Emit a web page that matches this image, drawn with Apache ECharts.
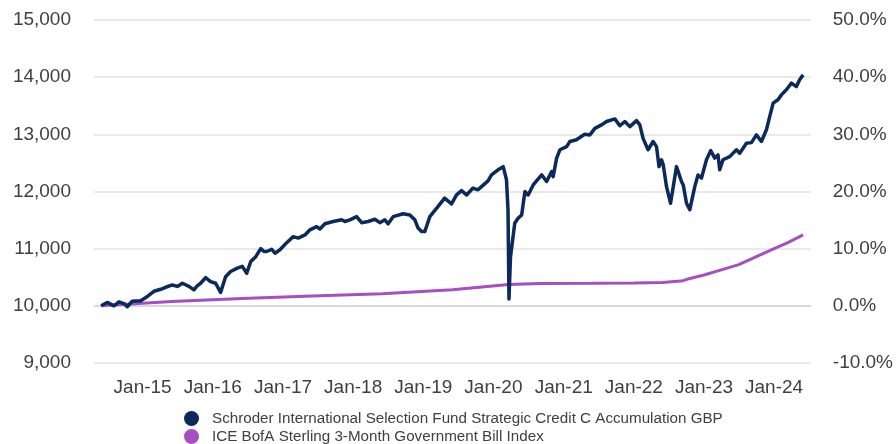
<!DOCTYPE html>
<html>
<head>
<meta charset="utf-8">
<script src="https://cdn.jsdelivr.net/npm/echarts@6/dist/echarts.min.js"></script>
<style>
html,body{margin:0;padding:0;background:#fff;}
#chart{width:896px;height:444px;}
</style>
</head>
<body>
<div id="chart"></div>
<script>
const fundName = 'Schroder International Selection Fund Strategic Credit C Accumulation GBP';
const benchName = 'ICE BofA Sterling 3-Month Government Bill Index';

const fundDates = ['2014-05-30','2014-07-01','2014-08-05','2014-08-31','2014-09-26','2014-10-13','2014-11-08','2014-12-22',
'2015-01-26','2015-03-01','2015-04-05','2015-05-01','2015-06-05','2015-07-01','2015-07-27','2015-08-30','2015-09-25','2015-10-12','2015-10-30','2015-11-25','2015-12-21',
'2016-01-16','2016-02-11','2016-03-08','2016-04-03','2016-05-08','2016-06-03','2016-06-26','2016-07-17','2016-08-12','2016-09-07','2016-09-24','2016-10-08','2016-11-03','2016-11-20','2016-12-16',
'2017-01-20','2017-02-23','2017-03-21','2017-04-25','2017-05-21','2017-06-25','2017-07-12','2017-08-07','2017-09-19','2017-11-02','2017-11-19','2017-12-15',
'2018-01-19','2018-02-14','2018-03-20','2018-04-24','2018-05-20','2018-06-15','2018-07-02','2018-07-28','2018-09-18','2018-10-23','2018-11-18','2018-12-05','2018-12-23',
'2019-01-09','2019-02-04','2019-03-18','2019-04-22','2019-05-28','2019-06-23','2019-07-19','2019-08-14','2019-09-17','2019-10-13','2019-10-31','2019-12-04','2019-12-22',
'2020-01-25','2020-02-21','2020-03-09','2020-03-17','2020-03-22','2020-03-30','2020-04-21','2020-05-09','2020-05-27','2020-06-13','2020-06-30','2020-07-26','2020-09-08','2020-10-04','2020-10-30','2020-11-07','2020-11-25','2020-12-12',
'2021-01-16','2021-02-02','2021-03-08','2021-04-20','2021-05-17','2021-06-12','2021-07-17','2021-08-12','2021-09-24','2021-10-20','2021-11-15','2021-12-11',
'2022-01-15','2022-02-01','2022-02-18','2022-03-16','2022-04-11','2022-04-29','2022-05-12','2022-05-25','2022-06-03','2022-06-20','2022-07-11','2022-08-11','2022-09-06','2022-09-15','2022-10-02','2022-10-19','2022-11-14','2022-12-01','2022-12-19',
'2023-01-14','2023-02-05','2023-02-26','2023-03-15','2023-03-24','2023-04-10','2023-05-15','2023-06-19','2023-07-06','2023-08-10','2023-09-05','2023-10-01','2023-10-27','2023-11-22','2023-12-09','2023-12-27',
'2024-01-21','2024-02-08','2024-03-05','2024-03-31','2024-04-26','2024-05-13','2024-05-31'];

const fundValues = [10000,10060,10000,10070,10040,9985,10080,10090,
10165,10255,10290,10325,10365,10340,10395,10340,10280,10350,10395,10495,10425,
10395,10235,10510,10600,10660,10690,10570,10775,10860,11000,10950,10950,10990,10920,10980,
11105,11210,11185,11240,11330,11385,11345,11435,11475,11505,11475,11505,
11560,11455,11475,11515,11455,11505,11435,11560,11610,11590,11505,11360,11300,
11300,11560,11735,11885,11785,11940,12015,11940,12060,12030,12085,12185,12290,
12380,12435,12205,11680,10120,10860,11445,11535,11590,12000,11940,12115,12290,12175,12350,12260,12585,12730,
12785,12875,12905,13000,12990,13105,13165,13225,13270,13150,13225,13135,
13240,13165,12930,12730,12875,12785,12435,12555,12465,12085,11795,12435,12175,12115,11795,11680,12085,12290,12235,
12555,12715,12585,12640,12380,12555,12610,12730,12670,12845,12855,12990,12875,13080,13310,13545,
13605,13690,13780,13895,13835,13955,14040];

const benchDates = ['2014-05-30','2015-06-01','2016-06-01','2017-06-01','2018-06-01','2019-06-01','2020-03-20','2020-09-01','2021-06-01','2022-01-01','2022-06-01','2022-09-15','2022-10-15','2023-01-01','2023-04-01','2023-07-01','2023-10-01','2024-01-01','2024-03-15','2024-05-31'];
const benchValues = [10000,10075,10130,10170,10210,10280,10375,10392,10395,10398,10410,10440,10475,10540,10630,10720,10860,11000,11110,11240];

const tickDates = ['2015-01-01','2016-01-01','2017-01-01','2018-01-01','2019-01-01','2020-01-01','2021-01-01','2022-01-01','2023-01-01','2024-01-01'];
const tickLabels = ['Jan-15','Jan-16','Jan-17','Jan-18','Jan-19','Jan-20','Jan-21','Jan-22','Jan-23','Jan-24'];

const leftTicks = {min: 9000, max: 15000, interval: 1000};
const rightTicks = {min: -10, max: 50, interval: 10};

const toTs = s => { const p = s.split('-').map(Number); return Date.UTC(p[0], p[1]-1, p[2]); };
const tickTimes = tickDates.map(toTs);

const chart = echarts.init(document.getElementById('chart'), null, {renderer: 'canvas'});
const textColor = '#404040';
const font = 'Liberation Sans, Arial, sans-serif';

chart.setOption({
  animation: false,
  textStyle: {fontFamily: font},
  grid: {left: 94, right: 85, top: 20, bottom: 81, containLabel: false},
  legend: {
    orient: 'vertical', left: 184, top: 411, padding: 0, itemGap: 3,
    icon: 'circle', itemWidth: 15, itemHeight: 15,
    textStyle: {fontSize: 15.2, color: textColor, fontFamily: font, padding: [0,0,0,8]},
    data: [fundName, benchName]
  },
  xAxis: {
    type: 'value',
    min: toTs('2014-04-23'), max: toTs('2024-07-10'),
    axisLine: {show: true, lineStyle: {color: '#d4d4d4', width: 1.5}},
    axisTick: {show: false},
    splitLine: {show: false},
    axisLabel: {
      customValues: tickTimes,
      color: textColor, fontSize: 19, margin: 15, fontFamily: font,
      formatter: function (v) {
        let best = 0, bd = Infinity;
        tickTimes.forEach((t, i) => { const d = Math.abs(t - v); if (d < bd) { bd = d; best = i; } });
        return tickLabels[best];
      }
    }
  },
  yAxis: [
    {
      type: 'value', min: leftTicks.min, max: leftTicks.max, interval: leftTicks.interval,
      axisLine: {show: false}, axisTick: {show: false},
      splitLine: {lineStyle: {color: '#e2e2e2', width: 1.5}},
      axisLabel: {color: textColor, fontSize: 19, margin: 23, fontFamily: font, padding: [4,0,0,0],
        formatter: v => v.toLocaleString('en-US')}
    },
    {
      type: 'value', min: rightTicks.min, max: rightTicks.max, interval: rightTicks.interval, position: 'right',
      axisLine: {show: false}, axisTick: {show: false}, splitLine: {show: false},
      axisLabel: {color: textColor, fontSize: 19, margin: 22, fontFamily: font, padding: [4,0,0,0],
        formatter: v => v.toFixed(1) + '%'}
    }
  ],
  series: [
    {
      name: benchName, type: 'line', yAxisIndex: 0, showSymbol: false, symbol: 'none',
      lineStyle: {color: '#a64ec2', width: 3}, itemStyle: {color: '#a64ec2'},
      data: benchDates.map((d, i) => [toTs(d), benchValues[i]]), z: 2
    },
    {
      name: fundName, type: 'line', yAxisIndex: 0, showSymbol: false, symbol: 'none',
      lineStyle: {color: '#0b2a5b', width: 3.5, join: 'round'}, itemStyle: {color: '#0b2a5b'},
      data: fundDates.map((d, i) => [toTs(d), fundValues[i]]), z: 3
    }
  ]
});
</script>
</body>
</html>
